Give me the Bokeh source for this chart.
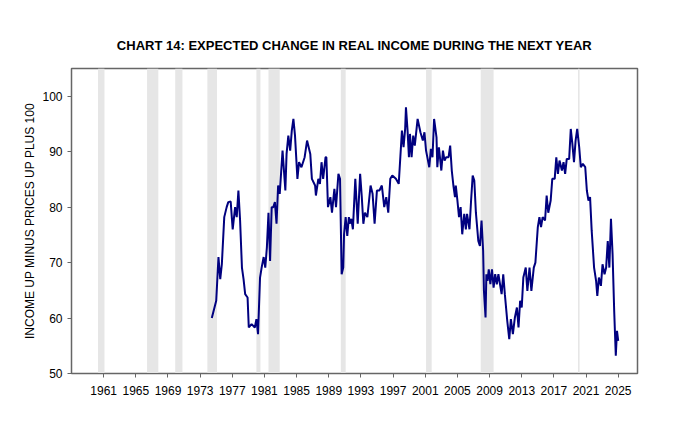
from bokeh.plotting import figure
from bokeh.models import Title, FixedTicker, BoxAnnotation, Range1d
from bokeh.embed import file_html
from bokeh.resources import INLINE

years = [1974.45,1975.0,1975.28,1975.5,1975.7,1976.0,1976.3,1976.5,1976.8,1977.05,1977.35,1977.55,1977.76,1977.97,1978.2,1978.4,1978.6,1978.9,1979.05,1979.4,1979.8,1980.0,1980.2,1980.45,1980.65,1980.9,1981.1,1981.3,1981.5,1981.7,1981.9,1982.1,1982.3,1982.5,1982.7,1982.9,1983.25,1983.6,1983.75,1983.97,1984.2,1984.4,1984.6,1984.8,1985.1,1985.3,1985.6,1986.0,1986.3,1986.7,1986.9,1987.3,1987.4,1987.7,1987.9,1988.1,1988.3,1988.6,1988.7,1988.9,1989.2,1989.4,1989.7,1989.9,1990.2,1990.4,1990.6,1990.8,1990.9,1991.1,1991.3,1991.5,1991.6,1991.8,1992.0,1992.3,1992.6,1992.9,
 1993.1,1993.3,1993.5,1993.8,1994.2,1994.45,1994.7,1994.99,1995.3,1995.6,1995.9,1996.15,1996.4,1996.65,1996.9,1997.35,1997.7,1997.9,1998.1,1998.3,1998.5,1998.6,1998.8,1998.97,1999.1,1999.3,1999.5,1999.7,2000.05,2000.4,2000.7,2000.9,2001.1,2001.3,2001.5,2001.7,2001.9,2002.1,2002.4,2002.5,2002.7,2003.0,2003.2,2003.4,2003.6,2003.9,2004.1,2004.3,2004.5,2004.7,2004.8,2005.0,2005.2,2005.4,2005.6,2005.85,2006.05,2006.2,2006.5,2006.7,2006.9,2007.1,2007.3,2007.6,2007.8,2008.0,2008.2,2008.3,2008.5,2008.6,2008.75,2008.9,2009.1,2009.3,2009.5,2009.7,2009.9,2010.1,2010.3,2010.5,2010.7,2010.9,2011.2,2011.45,2011.65,2011.9,2012.15,2012.4,2012.6,2012.8,2013.0,2013.2,2013.5,2013.7,2013.97,2014.2,2014.5,2014.7,2015.0,2015.2,2015.4,2015.6,2015.9,2016.1,2016.3,2016.6,2016.8,2017.1,2017.3,2017.5,2017.7,2018.0,2018.2,2018.4,2018.6,2018.9,2019.1,2019.3,2019.5,2019.7,2019.9,2020.15,2020.35,2020.6,2020.9,2021.1,2021.3,2021.5,2021.7,2022.0,2022.25,2022.4,2022.6,2022.85,2023.05,2023.3,2023.5,2023.7,2023.9,2024.1,2024.3,2024.5,2024.7,2024.85,2025.0]
values = [60,63.1,71,67,69.7,78.2,80,80.9,81,76,80,78.2,83,77.6,69.1,67,64.3,63.7,58.3,58.9,58.3,59.8,57.1,67.3,69.1,71,69.1,72.7,79,70.3,80,80,80.9,77,83.9,82.4,90.2,83,89.6,92.9,90.2,93.8,95.9,92.9,85.1,88.1,87.2,89,92,89.6,85.1,83.9,82.1,85.1,84.2,88.1,85.1,89,89,80,81.8,79,83.3,80,86,85.1,67.9,69.1,75.1,78.2,74.8,78.2,77,77.9,76,85.1,77,86,
 82,77,79,78.2,83.9,82.4,77,83,83,83.9,80,81.8,79,85.1,85.7,85.1,84.2,89,93.8,90.8,94.1,98,93.8,89,93.2,89,92.9,91.1,95.9,93.5,92,93.5,90.2,88.7,87.2,90.5,89,95.9,92.6,87.2,90.8,86.6,90.2,88.4,89,89,91.1,86.6,83.9,81.8,83.9,81.2,78.2,80,75.1,78.8,76,78.8,76,81.2,85.7,84.8,79,73.9,73,77.6,72.1,64.9,60.1,67.9,66.7,68.8,66.1,68.8,65.5,67.9,66.1,67.9,66.1,64.3,67.9,64.3,59.5,56.2,59.8,57.1,60.1,61.9,58.3,63.1,61.9,67.3,69.1,64.9,69.1,64.9,69.1,70,76.4,78.2,76.4,78.2,77.6,82.1,79,81.2,85.1,85.1,89,86,88.4,86.6,88.1,86,88.7,88.7,94.1,91.4,88.1,92,94.1,90.8,87.2,87.8,87.2,83,81.2,81.8,75.8,69.1,66.7,64,67.3,65.8,69.7,67.9,69.1,73.9,69.1,77.9,71.5,61.3,53.2,57.7,55.9]

recession_start = [1960.3,1966.4,1969.9,1973.9,1980.0,1981.5,1990.5,2001.1,2007.9,2020.0]
recession_end = [1961.1,1967.8,1970.8,1975.1,1980.5,1982.9,1991.1,2001.8,2009.5,2020.2]

x_ticks = list(range(1961, 2026, 4))
y_ticks = [50, 60, 70, 80, 90, 100]

p = figure(width=672, height=421, output_backend="svg", toolbar_location=None,
           x_range=Range1d(1957.0, 2027.4), y_range=Range1d(50, 105),
           min_border_left=71, min_border_right=35, min_border_top=68, min_border_bottom=48)
p.add_layout(Title(text=" ", text_font_size="12px", standoff=0), "above")
p.add_layout(Title(text="CHART 14: EXPECTED CHANGE IN REAL INCOME DURING THE NEXT YEAR",
                   text_font="Liberation Sans", text_font_size="13px", text_font_style="bold",
                   text_color="#000000", align="center", standoff=0), "above")
for s, e in zip(recession_start, recession_end):
    p.add_layout(BoxAnnotation(left=s, right=e, fill_color="#e6e6e6", fill_alpha=1, line_alpha=0, level="underlay"))
p.line(years, values, line_color="#00007f", line_width=2)

p.grid.visible = False
p.outline_line_color = "#666666"
p.outline_line_width = 1.5
for ax in (p.xaxis[0], p.yaxis[0]):
    ax.axis_line_color = "#666666"
    ax.major_tick_line_color = "#666666"
    ax.minor_tick_line_color = None
    ax.major_tick_in = 0
    ax.major_tick_out = 4
    ax.major_label_text_font = "Liberation Sans"
    ax.major_label_text_font_size = "12px"
    ax.major_label_text_color = "#000000"
p.xaxis.ticker = FixedTicker(ticks=x_ticks)
p.yaxis.ticker = FixedTicker(ticks=y_ticks)
p.yaxis.axis_label = "INCOME UP MINUS PRICES UP PLUS 100"
p.yaxis.axis_label_text_font = "Liberation Sans"
p.yaxis.axis_label_text_font_size = "12px"
p.yaxis.axis_label_text_font_style = "normal"
p.yaxis.axis_label_text_color = "#000000"
p.yaxis.axis_label_standoff = 2
p.xaxis.major_label_standoff = 8

open("out.html", "w").write(file_html(p, INLINE))
